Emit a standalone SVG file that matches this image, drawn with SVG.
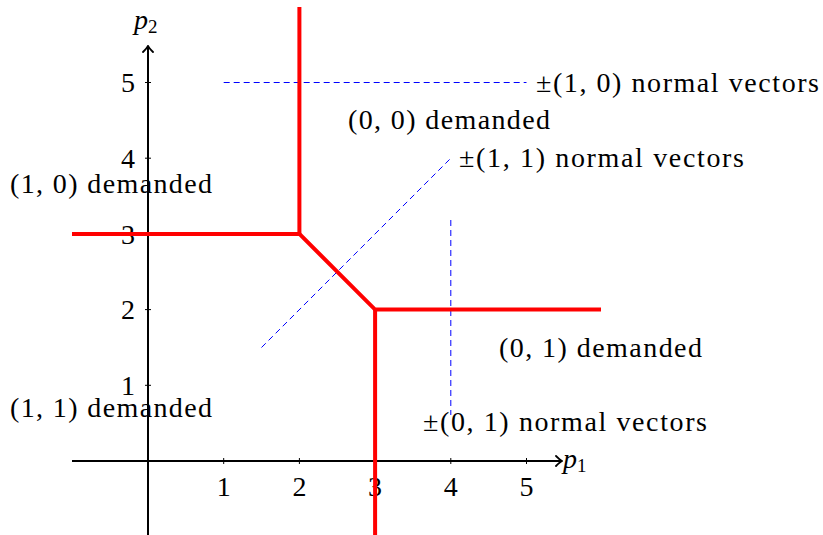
<svg xmlns="http://www.w3.org/2000/svg" width="823" height="535" viewBox="0 0 823 535">
<defs>
<style>
text{font-family:"Liberation Serif","DejaVu Serif",serif;font-size:28px;fill:#000}
.t{text-anchor:middle}
.ax{stroke:#000;stroke-width:2;fill:none}
.tick{stroke:#000;stroke-width:1}
.red{stroke:#ff0000;stroke-width:4;fill:none;stroke-linejoin:miter}
.blue{stroke:#0000ff;stroke-width:1;stroke-dasharray:6 4;fill:none}
</style>
<marker id="arr" viewBox="-6 -6 8 12" markerWidth="8" markerHeight="12" refX="0" refY="0" orient="auto" markerUnits="userSpaceOnUse">
<path d="M-5,-5 Q-1,-1 1,0 Q-1,1 -5,5" fill="none" stroke="#000" stroke-width="1.8" stroke-linecap="round"/>
</marker>
</defs>
<g id="axes">
<line class="ax" x1="72" y1="461" x2="561" y2="461" marker-end="url(#arr)"/>
<line class="ax" x1="148" y1="535" x2="148" y2="47" marker-end="url(#arr)"/>
<g class="tick">
<line x1="223.7" y1="458" x2="223.7" y2="464"/><line x1="299.4" y1="458" x2="299.4" y2="464"/><line x1="375.1" y1="458" x2="375.1" y2="464"/><line x1="450.8" y1="458" x2="450.8" y2="464"/><line x1="526.5" y1="458" x2="526.5" y2="464"/>
<line x1="145" y1="385.3" x2="151" y2="385.3"/><line x1="145" y1="309.6" x2="151" y2="309.6"/><line x1="145" y1="233.9" x2="151" y2="233.9"/><line x1="145" y1="158.2" x2="151" y2="158.2"/><line x1="145" y1="82.5" x2="151" y2="82.5"/>
</g>
<text class="t" x="223.7" y="496">1</text><text class="t" x="299.4" y="496">2</text><text class="t" x="375.1" y="496">3</text><text class="t" x="450.8" y="496">4</text><text class="t" x="526.5" y="496">5</text>
<text class="t" x="128" y="395">1</text><text class="t" x="128" y="319">2</text><text class="t" x="128" y="244">3</text><text class="t" x="128" y="168">4</text><text class="t" x="128" y="92">5</text>
<text x="563" y="468" font-style="italic">p<tspan font-size="19" font-style="normal" dy="4">1</tspan></text>
<text x="134" y="29" font-style="italic">p<tspan font-size="19" font-style="normal" dy="4">2</tspan></text>
</g>
<g id="connectors">
<line class="blue" x1="223.7" y1="82.5" x2="526.5" y2="82.5"/>
<line class="blue" x1="261.5" y1="347.5" x2="450.8" y2="158.2"/>
<line class="blue" x1="450.8" y1="220" x2="450.8" y2="415"/>
<polyline class="red" points="299.4,7 299.4,233.9 72,233.9"/>
<polyline class="red" points="299.4,233.9 375.1,309.6 601,309.6"/>
<line class="red" x1="375.1" y1="309.6" x2="375.1" y2="535"/>
</g>
<g id="labels">
<text x="536" y="92" textLength="283" lengthAdjust="spacing">±(1, 0) normal vectors</text>
<text x="348" y="129" textLength="202" lengthAdjust="spacing">(0, 0) demanded</text>
<text x="459" y="167" textLength="285" lengthAdjust="spacing">±(1, 1) normal vectors</text>
<text x="10" y="193" textLength="202" lengthAdjust="spacing">(1, 0) demanded</text>
<text x="499" y="357" textLength="203" lengthAdjust="spacing">(0, 1) demanded</text>
<text x="10" y="417" textLength="202" lengthAdjust="spacing">(1, 1) demanded</text>
<text x="423" y="431" textLength="284" lengthAdjust="spacing">±(0, 1) normal vectors</text>
</g>
</svg>
